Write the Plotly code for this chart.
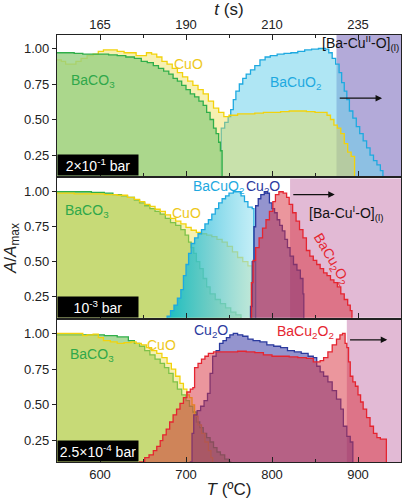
import plotly.graph_objects as go

# ---------------- data: top panel (2x10^-1 bar) ----------------
T_baco3_a = [550,560,570,580,590,600,610,620,630,640,648,655,662,668,674,680,685,690,695,700,705,710,715,720,724,728,732,735,738,740,742]
v_baco3_a = [0.97,0.97,0.965,0.96,0.96,0.96,0.955,0.95,0.94,0.93,0.91,0.90,0.88,0.86,0.84,0.82,0.79,0.77,0.74,0.71,0.68,0.66,0.63,0.60,0.55,0.50,0.44,0.40,0.34,0.28,0]
T_cuo_a = [550,555,560,566,572,578,585,592,598,604,612,620,628,636,642,648,654,660,666,672,678,684,690,696,702,708,714,720,726,732,738,744,750,760,770,780,790,800,810,820,830,840,850,858,864,868,872,876,880,884,888,892,896]
v_cuo_a = [0.92,0.91,0.89,0.89,0.91,0.93,0.95,0.96,0.98,0.99,0.99,0.98,0.97,0.97,0.95,0.95,0.97,0.96,0.94,0.91,0.89,0.86,0.83,0.80,0.77,0.74,0.71,0.68,0.63,0.58,0.55,0.52,0.53,0.54,0.54,0.545,0.55,0.55,0.555,0.56,0.56,0.555,0.55,0.55,0.53,0.50,0.46,0.44,0.40,0.33,0.27,0.24,0]
T_bacuo2_a = [737,741,745,749,752,755,758,762,766,770,775,780,786,792,798,806,814,822,830,838,846,854,862,866,870,874,878,881,884,887,890,894,898,902,906,910,914,918,922,926,929]
v_bacuo2_a = [0,0.44,0.48,0.52,0.57,0.64,0.70,0.75,0.79,0.82,0.85,0.88,0.92,0.94,0.95,0.96,0.965,0.97,0.98,0.99,0.995,1.0,0.995,0.97,0.93,0.89,0.83,0.76,0.70,0.64,0.56,0.51,0.45,0.40,0.35,0.30,0.25,0.21,0.18,0.14,0]

# ---------------- data: middle panel (10^-3 bar) ----------------
T_baco3_b = [550,570,590,605,615,625,632,640,646,652,658,664,670,676,682,688,694,699,703,706,709,712,716,720,724,728,734,740,746,752,758,764]
v_baco3_b = [1.0,1.0,0.995,0.99,0.98,0.97,0.96,0.94,0.92,0.90,0.88,0.86,0.84,0.81,0.78,0.76,0.73,0.69,0.64,0.60,0.56,0.50,0.45,0.38,0.32,0.27,0.23,0.20,0.17,0.14,0.12,0]
T_cuo_b = [550,570,590,605,620,632,640,646,652,658,664,670,676,682,688,694,700,706,712,718,724,730,736,742,748,754,760,766,772,777]
v_cuo_b = [0.99,0.985,0.985,0.98,0.975,0.96,0.945,0.93,0.91,0.895,0.875,0.86,0.835,0.81,0.79,0.77,0.745,0.725,0.71,0.70,0.69,0.68,0.66,0.64,0.61,0.57,0.53,0.50,0.47,0]
T_bacuo2_b = [674,678,682,686,690,694,697,700,703,706,710,714,718,722,726,730,734,738,742,746,750,755,760,764,768,772,777,779,781]
v_bacuo2_b = [0,0.11,0.15,0.19,0.24,0.30,0.40,0.48,0.56,0.63,0.67,0.70,0.73,0.77,0.80,0.84,0.88,0.92,0.95,0.97,0.99,1.0,1.0,0.97,0.93,0.89,0.88,0.50,0]
T_cu2o_b = [773,775,777,779,781,784,787,791,795,797,800,803,806,809,812,815,818,821,825,829,833,836,837]
v_cu2o_b = [0,0.18,0.50,0.75,0.90,0.95,0.98,1.0,0.99,0.92,0.88,0.85,0.80,0.76,0.72,0.66,0.60,0.54,0.48,0.44,0.38,0.27,0]
T_bacu2o2_b = [774,776,778,781,785,789,793,797,801,804,808,813,817,820,824,828,832,836,840,844,848,852,856,860,864,868,872,876,880,884,888,891,893]
v_bacu2o2_b = [0,0.35,0.51,0.60,0.67,0.74,0.80,0.86,0.93,0.98,1.0,0.99,0.96,0.91,0.85,0.79,0.73,0.67,0.58,0.54,0.51,0.48,0.45,0.42,0.40,0.37,0.35,0.32,0.27,0.23,0.19,0.15,0]

# ---------------- data: bottom panel (2.5x10^-4 bar) ----------------
T_baco3_c = [550,570,590,605,620,633,640,646,652,658,664,670,675,680,685,690,695,700,704,708,712,716,720,724,728,732,736,740,745,750,752]
v_baco3_c = [0.99,0.99,0.99,0.985,0.975,0.95,0.93,0.91,0.88,0.85,0.82,0.79,0.76,0.72,0.66,0.61,0.57,0.53,0.49,0.45,0.38,0.34,0.30,0.27,0.24,0.20,0.17,0.15,0.12,0.10,0]
T_cuo_c = [550,576,580,585,592,598,604,612,620,628,636,642,648,654,660,666,672,678,683,688,693,697,701,704,707,710,714,718,722,726,729,731]
v_cuo_c = [1.0,1.0,0.985,0.99,0.995,0.97,0.95,0.94,0.93,0.935,0.94,0.93,0.92,0.90,0.88,0.86,0.83,0.79,0.75,0.70,0.65,0.61,0.57,0.55,0.50,0.42,0.36,0.30,0.24,0.18,0.13,0]
T_cu2o_c = [703,705,707,709,713,717,721,725,728,731,735,739,743,747,751,755,760,766,772,778,786,794,802,810,818,826,834,842,848,852,856,860,865,870,875,880,883,887,891,894]
v_cu2o_c = [0,0.10,0.30,0.43,0.46,0.49,0.53,0.58,0.72,0.84,0.88,0.93,0.95,0.97,0.99,1.0,0.99,0.98,0.96,0.95,0.94,0.92,0.91,0.90,0.88,0.87,0.86,0.84,0.83,0.77,0.73,0.70,0.66,0.60,0.54,0.47,0.35,0.28,0.24,0]
T_bacu2o2_c = [642,646,652,657,662,666,670,673,677,681,685,689,693,697,701,705,708,710,714,718,722,726,732,740,750,760,770,780,790,800,810,820,830,840,848,856,860,865,870,875,879,882,885,887,889,891,894,897,900,903,906,910,914,918,922,926,932,933]
v_bacu2o2_c = [0,0.10,0.13,0.15,0.18,0.21,0.25,0.29,0.33,0.38,0.43,0.47,0.51,0.55,0.59,0.61,0.62,0.76,0.79,0.82,0.84,0.86,0.87,0.87,0.87,0.875,0.87,0.865,0.85,0.84,0.84,0.835,0.83,0.825,0.80,0.81,0.83,0.87,0.92,0.96,0.99,1.0,0.93,0.90,0.80,0.70,0.66,0.63,0.57,0.52,0.47,0.41,0.35,0.30,0.27,0.26,0.26,0]

# liquid-phase onset temperatures and arrow data per panel
liquid_onset = [875, 821, 887]
arrow_end = [928, 873, 934]
arrow_level = [0.65, 0.98, 0.955]
pressure_labels = ["2×10<sup>-1</sup> bar", "10<sup>-3</sup> bar", "2.5×10<sup>-4</sup> bar"]

T_ticks = [600, 700, 800, 900]
t_ticklabels = ["165", "190", "210", "235"]
y_ticks = [0.25, 0.50, 0.75, 1.00]

# ---------------- styles ----------------
GREEN, GREEN_F = "#2fae4a", "rgba(151,209,131,0.80)"
YELLOW, YELLOW_F = "#f2d20c", "rgba(235,220,70,0.42)"
CYAN, CYAN_F = "#1ea9e0", "rgba(110,210,235,0.55)"
BLUE, BLUE_F = "#2b3a9e", "rgba(60,60,165,0.55)"
RED, RED_F = "#e52530", "rgba(215,45,60,0.50)"
FONT = "Liberation Sans, Arial, sans-serif"

fig = go.Figure()

def add(T, v, k, lc, fc=None, grad=None):
    xa = "x" if k == 1 else f"x{k}"
    ya = "y" if k == 1 else f"y{k}"
    kw = dict(x=T, y=v, xaxis=xa, yaxis=ya, mode="lines",
              line=dict(color=lc, width=1.3, shape="hv"),
              fill="tozeroy", hoverinfo="skip", showlegend=False)
    if grad is not None:
        kw["fillgradient"] = grad
    else:
        kw["fillcolor"] = fc
    fig.add_trace(go.Scatter(**kw))

# top
add(T_bacuo2_a, v_bacuo2_a, 1, CYAN, CYAN_F)
add(T_cuo_a, v_cuo_a, 1, YELLOW, YELLOW_F)
add(T_baco3_a, v_baco3_a, 1, GREEN, GREEN_F)
# middle
cyan_grad = dict(type="horizontal", start=680, stop=780,
                 colorscale=[[0, "rgba(0,185,205,0.85)"], [0.5, "rgba(80,200,225,0.72)"],
                             [1, "rgba(160,228,242,0.6)"]])
add(T_baco3_b, v_baco3_b, 2, GREEN, GREEN_F)
add(T_cuo_b, v_cuo_b, 2, YELLOW, YELLOW_F)
add(T_bacuo2_b, v_bacuo2_b, 2, CYAN, grad=cyan_grad)
add(T_cu2o_b, v_cu2o_b, 2, BLUE, BLUE_F)
add(T_bacu2o2_b, v_bacu2o2_b, 2, RED, RED_F)
# bottom
add(T_baco3_c, v_baco3_c, 3, GREEN, GREEN_F)
add(T_cuo_c, v_cuo_c, 3, YELLOW, YELLOW_F)
add(T_cu2o_c, v_cu2o_c, 3, BLUE, BLUE_F)
add(T_bacu2o2_c, v_bacu2o2_c, 3, RED, RED_F)

# ---------------- axes ----------------
common = dict(showline=True, linecolor="#222", linewidth=1.2, showgrid=False, zeroline=False)
xcommon = dict(common, range=[550, 950], tickvals=T_ticks, ticks="inside", ticklen=5,
               tickwidth=1.2, tickcolor="#222",
               minor=dict(tickvals=[650, 750, 850], ticks="inside", ticklen=3, tickcolor="#222"))
ycommon = dict(common, range=[0.1, 1.095], tickvals=y_ticks,
               ticktext=[f"{t:.2f}" for t in y_ticks], ticks="outside", ticklen=4,
               tickwidth=1.2, tickcolor="#222", mirror=True, tickfont=dict(size=13))

domains = [[0.669, 1.0], [0.338, 0.664], [0.0, 0.333]]
fig.update_layout(
    width=405, height=500, margin=dict(l=57, r=3, t=33, b=38),
    plot_bgcolor="white", paper_bgcolor="white", showlegend=False,
    font=dict(family=FONT, size=13, color="#222"),
    xaxis=dict(xcommon, anchor="y", side="top", ticktext=t_ticklabels, mirror="ticks",
               title=dict(text="<i>t</i> (s)", font=dict(size=17), standoff=2)),
    xaxis2=dict(xcommon, anchor="y2", showticklabels=False, mirror=True),
    xaxis3=dict(xcommon, anchor="y3", mirror=True,
                title=dict(text="<i>T</i> (ºC)", font=dict(size=17), standoff=2)),
    yaxis=dict(ycommon, domain=domains[0], anchor="x"),
    yaxis2=dict(ycommon, domain=domains[1], anchor="x2",
                title=dict(text="<i>A</i>/<i>A</i><sub>max</sub>", font=dict(size=17), standoff=3)),
    yaxis3=dict(ycommon, domain=domains[2], anchor="x3"),
)

band_colors = ["#b3aad9", "#e2bad5", "#e2bad5"]
for k in range(3):
    xr = "x" if k == 0 else f"x{k+1}"
    yr = "y" if k == 0 else f"y{k+1}"
    fig.add_shape(type="rect", xref=xr, yref=f"{yr} domain", x0=liquid_onset[k], x1=950,
                  y0=0, y1=1, fillcolor=band_colors[k], line=dict(width=0), layer="below")
    fig.add_annotation(xref=xr, yref=yr, axref=xr, ayref=yr, x=arrow_end[k], y=arrow_level[k],
                       ax=liquid_onset[k] + 2, ay=arrow_level[k], text="", showarrow=True,
                       arrowhead=2, arrowsize=1, arrowwidth=1.3, arrowcolor="#111")
    fig.add_annotation(xref=f"{xr} domain", yref=f"{yr} domain", x=0, y=0, xanchor="left",
                       yanchor="bottom", text=pressure_labels[k], showarrow=False,
                       bgcolor="black", font=dict(color="white", size=14, family=FONT),
                       width=76, height=16, borderpad=2)

def label(k, x, y, text, color, angle=0, xanchor="center"):
    xr = "x" if k == 1 else f"x{k}"
    yr = "y" if k == 1 else f"y{k}"
    fig.add_annotation(xref=xr, yref=yr, x=x, y=y, text=text, showarrow=False,
                       font=dict(color=color, size=14, family=FONT), textangle=angle,
                       xanchor=xanchor)

label(1, 592, 0.77, "BaCO<sub>3</sub>", "#2fa84a")
label(1, 703, 0.89, "CuO", "#eec81a")
label(1, 827, 0.76, "BaCuO<sub>2</sub>", "#1ea9e0")
label(1, 950, 1.04, "[Ba-Cu<sup>II</sup>-O]<sub>(l)</sub>", "#111", xanchor="right")

label(2, 585, 0.86, "BaCO<sub>3</sub>", "#2fa84a")
label(2, 701, 0.85, "CuO", "#eec81a")
label(2, 738, 1.035, "BaCuO<sub>2</sub>", "#1ea9e0")
label(2, 790, 1.035, "Cu<sub>2</sub>O", "#2b3a9e")
label(2, 886, 0.85, "[Ba-Cu<sup>I</sup>-O]<sub>(l)</sub>", "#111")
label(2, 869, 0.52, "BaCu<sub>2</sub>O<sub>2</sub>", "#e52530", angle=59)

label(3, 591, 0.85, "BaCO<sub>3</sub>", "#2fa84a")
label(3, 671, 0.92, "CuO", "#eec81a")
label(3, 729, 1.02, "Cu<sub>2</sub>O", "#2b3a9e")
label(3, 839, 1.01, "BaCu<sub>2</sub>O<sub>2</sub>", "#e52530")

fig.write_html("out.html")
